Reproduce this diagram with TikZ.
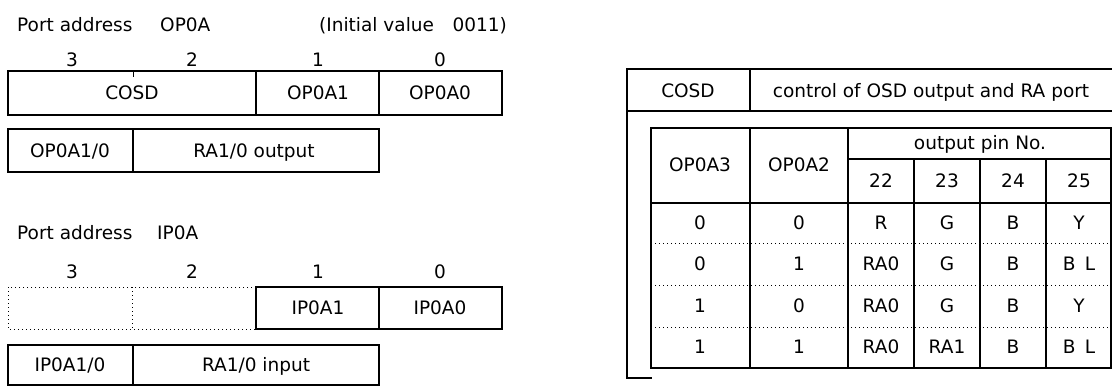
\documentclass[tikz,border=0pt]{standalone}
\usepackage{fontspec}
\setmainfont{DejaVu Sans}
\tikzset{
  regbox/.style={draw, line width=2.2pt},
  subbox/.style={draw, line width=1.2pt},
  tabline/.style={line width=1.6pt},
  dotline/.style={line width=1pt, dash pattern=on 1pt off 3pt},
  lbl/.style={font=\fontsize{18.5}{20}\selectfont, inner sep=0pt, text height=13.5pt, text depth=0pt},
}
\begin{document}
\begin{tikzpicture}[x=1pt,y=-1pt]
\useasboundingbox (0,0) rectangle (1112,386);
% port OP0A
\node[lbl, anchor=west] (opaddr) at (17,25) {Port address};
\node[lbl, anchor=west] (opname) at (160,25) {OP0A};
\node[lbl, anchor=east] (opinit) at (507,25) {(Initial value\quad 0011)};
\foreach \b/\x in {3/72,2/192,1/318,0/440} {
	\node[lbl] (opbit\b) at (\x,60) {\b};
}
\draw[regbox] (8,71) rectangle (502,115);
\draw[regbox] (256,71) -- (256,115) (379,71) -- (379,115);
\draw[line width=1pt] (133,71) -- (133,77);
\node[lbl] (cosd) at (132,93) {COSD};
\node[lbl] (opa1) at (318,93) {OP0A1};
\node[lbl] (opa0) at (440,93) {OP0A0};
\draw[subbox] (8,129) rectangle (379,172);
\draw[subbox] (133,129) -- (133,172);
\node[lbl] (opsel) at (70,151) {OP0A1/0};
\node[lbl] (opout) at (254,151) {RA1/0 output};
% port IP0A
\node[lbl, anchor=west] (ipaddr) at (17,233) {Port address};
\node[lbl, anchor=west] (ipname) at (157,233) {IP0A};
\foreach \b/\x in {3/72,2/192,1/318,0/440} {
	\node[lbl] (ipbit\b) at (\x,272) {\b};
}
\draw[dotline] (256,287) -- (8,287) -- (8,329) -- (256,329) (132,287) -- (132,329);
\draw[regbox] (256,287) rectangle (502,329);
\draw[regbox] (379,287) -- (379,329);
\node[lbl] (ipa1) at (318,308) {IP0A1};
\node[lbl] (ipa0) at (440,308) {IP0A0};
\draw[subbox] (8,345) rectangle (379,385);
\draw[subbox] (133,345) -- (133,385);
\node[lbl] (ipsel) at (70,365) {IP0A1/0};
\node[lbl] (ipin) at (256,365) {RA1/0 input};
% COSD table
\draw[tabline] (1112,69) -- (627,69) -- (627,378) -- (652,378);
\draw[tabline] (627,111) -- (1112,111) (750,69) -- (750,111);
\node[lbl] (tcosd) at (688,91) {COSD};
\node[lbl] (tctrl) at (931,91) {control of OSD output and RA port};
\draw[tabline] (651,128) rectangle (1111,368);
\draw[tabline] (750,128) -- (750,368) (848,128) -- (848,368);
\foreach \x in {914,980,1046} {
	\draw[tabline] (\x,159) -- (\x,368);
}
\draw[tabline] (848,159) -- (1111,159) (651,203) -- (1111,203);
\foreach \y in {243,285,327} {
	\draw[dotline] (651,\y) -- (1111,\y);
}
\node[lbl] (hop3) at (700,165) {OP0A3};
\node[lbl] (hop2) at (799,165) {OP0A2};
\node[lbl] (hpin) at (980,143) {output pin No.};
\foreach \p/\x in {22/881,23/947,24/1013,25/1079} {
	\node[lbl] (hpin\p) at (\x,181) {\p};
}
\foreach \y/\a/\b/\c/\d/\e/\f [count=\r] in {223/0/0/R/G/B/Y, 264/0/1/RA0/G/B/B\enspace L, 306/1/0/RA0/G/B/Y, 347/1/1/RA0/RA1/B/B\enspace L} {
	\node[lbl] (r\r a) at (700,\y) {\a};
	\node[lbl] (r\r b) at (799,\y) {\b};
	\node[lbl] (r\r c) at (881,\y) {\c};
	\node[lbl] (r\r d) at (947,\y) {\d};
	\node[lbl] (r\r e) at (1013,\y) {\e};
	\node[lbl] (r\r f) at (1079,\y) {\f};
}
\end{tikzpicture}
\end{document}
